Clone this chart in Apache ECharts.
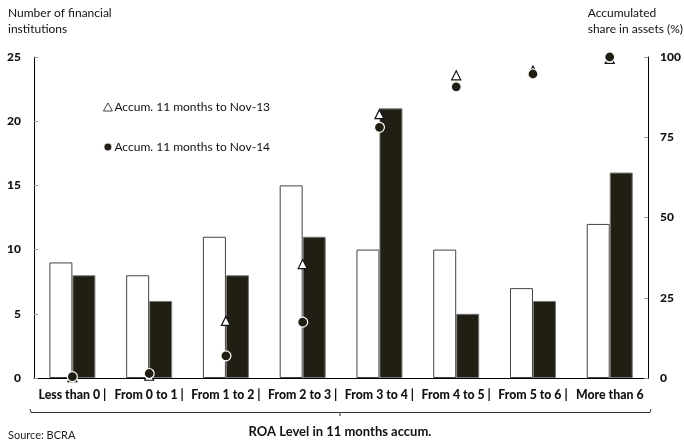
<!DOCTYPE html>
<html>
<head>
<meta charset="utf-8">
<script src="https://cdn.jsdelivr.net/npm/echarts@6/dist/echarts.min.js"></script>
<style>
html,body{margin:0;padding:0;background:#fff;}
#c{width:684px;height:443px;}
</style>
</head>
<body>
<div id="c"></div>
<script>
var categories = ['Less than 0 |', 'From 0 to 1 |', 'From 1 to 2 |', 'From 2 to 3 |', 'From 3 to 4 |', 'From 4 to 5 |', 'From 5 to 6 |', 'More than 6'];
var countNov13 = [9, 8, 11, 15, 10, 10, 7, 12];
var countNov14 = [8, 6, 8, 11, 21, 5, 6, 16];
var accumNov13 = [0.3, 0.7, 17.8, 35.5, 82.2, 94.3, 95.8, 99.4];
var accumNov14 = [0.4, 1.4, 6.9, 17.4, 78.1, 90.7, 94.7, 100];
var leftTicks = [0, 5, 10, 15, 20, 25];
var rightTicks = [0, 25, 50, 75, 100];

var FONT = 'Lato, "DejaVu Sans", sans-serif';
var chart = echarts.init(document.getElementById('c'), null, {renderer: 'canvas'});
chart.setOption({
  animation: false,
  backgroundColor: '#fff',
  textStyle: {fontFamily: FONT, color: '#111'},
  grid: {left: 34, right: 33, top: 57, bottom: 65, containLabel: false},
  legend: {
    orient: 'vertical', left: 98, top: 96, itemGap: 28,
    itemWidth: 9, itemHeight: 8,
    itemStyle: {borderWidth: 0.8},
    textStyle: {fontFamily: FONT, fontSize: 12, color: '#111', padding: [0,0,0,-3]},
    data: ['Accum. 11 months to Nov-13', 'Accum. 11 months to Nov-14']
  },
  xAxis: {
    type: 'category', data: categories,
    axisLine: {lineStyle: {color: '#000', width: 1}},
    axisTick: {show: false},
    axisLabel: {interval: 0, fontFamily: FONT, fontWeight: 900, fontSize: 12.3, color: '#111', margin: 11}
  },
  yAxis: [{
    type: 'value', min: leftTicks[0], max: leftTicks[leftTicks.length-1], interval: 5,
    axisLine: {show: true, lineStyle: {color: '#000', width: 1}},
    axisTick: {show: true, inside: true, length: 4, lineStyle: {color: '#999'}},
    splitLine: {show: false},
    axisLabel: {fontFamily: FONT, fontWeight: 900, fontSize: 12, color: '#111', margin: 13}
  }, {
    type: 'value', min: rightTicks[0], max: rightTicks[rightTicks.length-1], interval: 25,
    position: 'right',
    axisLine: {show: true, lineStyle: {color: '#000', width: 1}},
    axisTick: {show: true, inside: true, length: 4, lineStyle: {color: '#999'}},
    splitLine: {show: false},
    axisLabel: {fontFamily: FONT, fontWeight: 900, fontSize: 12, color: '#111', margin: 12}
  }],
  series: [{
    name: 'Nov-13', type: 'bar', data: countNov13, barWidth: 23, barGap: '0%',
    itemStyle: {color: '#fff', borderColor: '#444', borderWidth: 1}
  }, {
    name: 'Nov-14', type: 'bar', data: countNov14, barWidth: 23, barGap: '0%',
    itemStyle: {color: '#211f14', borderColor: '#777', borderWidth: 1}
  }, {
    name: 'Accum. 11 months to Nov-13', type: 'scatter', yAxisIndex: 1, data: accumNov13,
    symbol: 'triangle', symbolSize: 9, z: 5,
    itemStyle: {color: '#fff', borderColor: '#111', borderWidth: 1.2, opacity: 1}
  }, {
    name: 'Accum. 11 months to Nov-14', type: 'scatter', yAxisIndex: 1, data: accumNov14,
    symbol: 'circle', symbolSize: 10, z: 6,
    itemStyle: {color: '#211f14', borderColor: '#fff', borderWidth: 1.2, opacity: 1}
  }],
  graphic: [
    {type: 'text', left: 8, top: 5, style: {text: 'Number of financial\ninstitutions', font: '12px ' + FONT, fill: '#111', lineHeight: 16}},
    {type: 'text', right: 1, top: 5, style: {text: 'Accumulated\nshare in assets (%)', font: '12px ' + FONT, fill: '#111', lineHeight: 16, align: 'right'}},
    {type: 'polyline', shape: {points: [[30,409],[31,412.5],[650,412.5],[651,409]]}, style: {stroke: '#333', lineWidth: 1, fill: null}},
    {type: 'line', shape: {x1: 340, y1: 412.5, x2: 340, y2: 416}, style: {stroke: '#333', lineWidth: 1}},
    {type: 'text', x: 340, y: 425, style: {text: 'ROA Level in 11 months accum.', font: 'bold 13px ' + FONT, fill: '#111', align: 'center'}},
    {type: 'text', left: 8, top: 430, style: {text: 'Source: BCRA', font: '11px ' + FONT, fill: '#222'}}
  ]
});
</script>
</body>
</html>
